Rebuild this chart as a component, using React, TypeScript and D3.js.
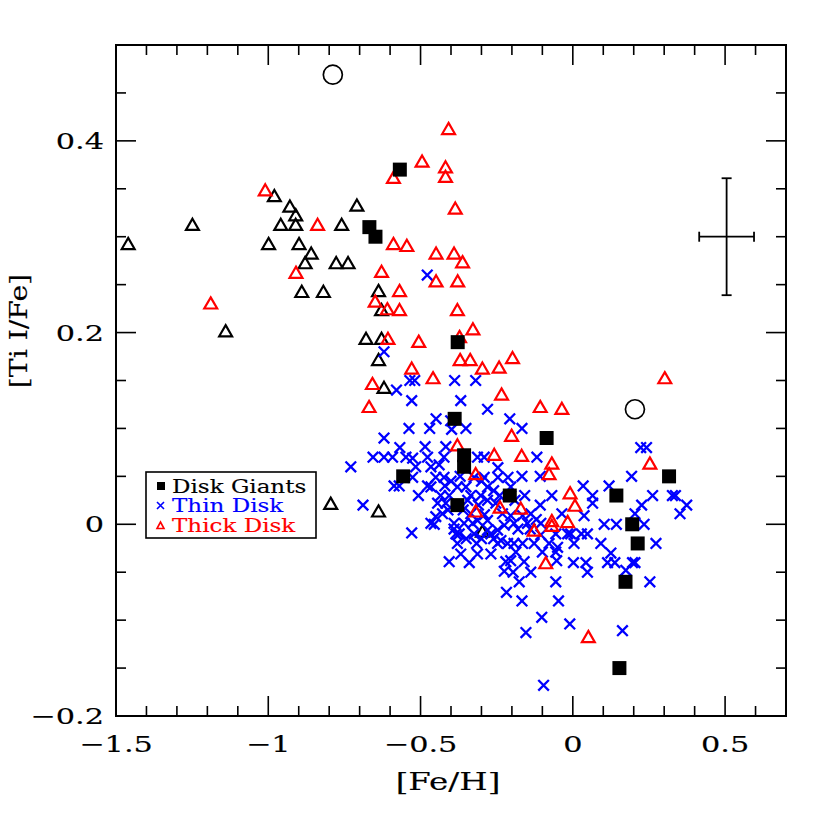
import * as d3 from 'd3';

// [Fe/H], [Ti I/Fe] pairs
const diskGiants: [number, number][] = [
  [-0.568, 0.37], [-0.668, 0.31], [-0.648, 0.3], [-0.378, 0.19], [-0.388, 0.11],
  [-0.357, 0.072], [-0.357, 0.06], [-0.557, 0.05], [-0.379, 0.02], [-0.086, 0.09],
  [0.316, 0.05], [-0.207, 0.03], [0.143, 0.03], [0.195, 0.0], [0.213, -0.02],
  [0.173, -0.06], [0.153, -0.15],
];

const thinDisk: [number, number][] = [
  [-0.478, 0.26], [-0.62, 0.18],
  [-0.535, 0.15], [-0.519, 0.15], [-0.388, 0.15], [-0.319, 0.15],
  [-0.579, 0.14], [-0.529, 0.129], [-0.368, 0.129], [-0.28, 0.12],
  [-0.449, 0.11], [-0.401, 0.108], [-0.207, 0.11],
  [-0.538, 0.1], [-0.47, 0.1], [-0.398, 0.099], [-0.351, 0.1], [-0.167, 0.1],
  [-0.62, 0.09], [-0.568, 0.08], [-0.485, 0.081], [-0.417, 0.081], [0.223, 0.08], [0.242, 0.08],
  [-0.656, 0.07], [-0.62, 0.07], [-0.592, 0.07], [-0.548, 0.07], [-0.526, 0.069], [-0.477, 0.07],
  [-0.423, 0.07], [-0.313, 0.07], [-0.291, 0.07], [-0.118, 0.07],
  [-0.729, 0.06], [-0.516, 0.06], [-0.466, 0.06], [-0.439, 0.062], [-0.246, 0.059],
  [-0.526, 0.049], [-0.45, 0.049], [-0.423, 0.049], [-0.324, 0.049], [-0.291, 0.049],
  [-0.246, 0.049], [-0.213, 0.049], [-0.167, 0.05], [-0.107, 0.05], [0.193, 0.05],
  [-0.587, 0.04], [-0.57, 0.04], [-0.477, 0.04], [-0.466, 0.039], [-0.379, 0.039], [-0.351, 0.039],
  [-0.28, 0.039], [-0.204, 0.039], [0.034, 0.04], [0.119, 0.04],
  [-0.507, 0.03], [-0.434, 0.03], [-0.406, 0.03], [-0.335, 0.03], [-0.302, 0.03], [-0.158, 0.03],
  [-0.069, 0.03], [0.065, 0.03], [0.262, 0.03], [0.327, 0.03], [0.337, 0.03],
  [-0.28, 0.025], [-0.689, 0.02], [-0.444, 0.022], [-0.417, 0.022], [-0.253, 0.022],
  [-0.107, 0.02], [0.065, 0.022], [0.226, 0.02], [0.374, 0.02],
  [-0.428, 0.011], [-0.335, 0.011], [-0.231, 0.011], [-0.204, 0.009], [-0.165, 0.009],
  [-0.138, 0.011], [-0.036, 0.011], [0.037, 0.009], [0.204, 0.011], [0.352, 0.011], [-0.45, 0.008],
  [-0.455, 0.0], [-0.466, 0.001], [-0.39, 0.001], [-0.357, 0.001], [-0.329, 0.001], [-0.313, 0.004],
  [-0.28, 0.004], [-0.225, -0.001], [-0.193, 0.001], [-0.149, 0.001], [-0.105, 0.001],
  [0.103, 0.0], [0.143, 0.0], [0.234, 0.0],
  [-0.529, -0.009], [-0.384, -0.01], [-0.373, -0.01], [-0.324, -0.01], [-0.28, -0.006],
  [-0.247, -0.006], [-0.269, -0.01], [-0.105, -0.011], [-0.056, -0.01], [-0.017, -0.01],
  [-0.007, -0.01], [0.028, -0.01], [0.048, -0.01],
  [-0.236, -0.017], [-0.214, -0.02], [-0.379, -0.02], [-0.316, -0.02], [-0.247, -0.02],
  [-0.193, -0.02], [-0.165, -0.02], [-0.127, -0.02], [-0.078, -0.02], [0.004, -0.02],
  [0.092, -0.02], [0.273, -0.02], [-0.05, -0.024],
  [-0.368, -0.031], [-0.313, -0.031], [-0.269, -0.031], [-0.187, -0.029], [-0.1, -0.029],
  [-0.056, -0.029], [0.125, -0.03],
  [-0.406, -0.039], [-0.22, -0.039], [-0.204, -0.038], [-0.16, -0.039], [-0.053, -0.038],
  [0.002, -0.04], [0.043, -0.04], [0.114, -0.04], [0.138, -0.04], [0.196, -0.04], [0.204, -0.04],
  [-0.225, -0.049], [-0.196, -0.05], [-0.138, -0.05], [0.048, -0.05], [0.174, -0.048],
  [-0.176, -0.06], [-0.056, -0.06], [0.253, -0.06], [-0.218, -0.071],
  [-0.167, -0.08], [-0.047, -0.08], [-0.102, -0.097],
  [-0.01, -0.104], [0.163, -0.111], [-0.154, -0.113], [-0.096, -0.168],
  // dense core
  [-0.42, 0.04], [-0.4, 0.045], [-0.37, 0.05], [-0.345, 0.025], [-0.36, 0.015],
  [-0.31, 0.02], [-0.29, 0.01], [-0.3, -0.015], [-0.26, -0.015], [-0.35, -0.015],
  [-0.34, -0.04], [-0.39, -0.005], [-0.41, 0.015], [-0.3, 0.045], [-0.26, 0.035],
  [-0.24, 0.03], [-0.19, 0.025], [-0.14, -0.005], [-0.18, -0.005], [-0.12, 0.005],
];

const thickDisk: [number, number][] = [
  [-1.01, 0.347], [-0.838, 0.311], [-0.909, 0.261], [-1.189, 0.229],
  [-0.408, 0.411], [-0.589, 0.36], [-0.495, 0.377], [-0.418, 0.371], [-0.418, 0.361],
  [-0.386, 0.328], [-0.589, 0.291], [-0.545, 0.289], [-0.449, 0.281], [-0.39, 0.281],
  [-0.362, 0.272], [-0.628, 0.262], [-0.449, 0.252], [-0.378, 0.252], [-0.569, 0.242],
  [-0.649, 0.231], [-0.609, 0.223], [-0.569, 0.222], [-0.379, 0.222], [-0.328, 0.202],
  [-0.372, 0.194], [-0.607, 0.192], [-0.506, 0.189], [-0.529, 0.161], [-0.37, 0.17],
  [-0.337, 0.17], [-0.297, 0.161], [-0.459, 0.151], [-0.658, 0.145], [-0.669, 0.121],
  [-0.379, 0.081], [-0.319, 0.051], [-0.319, 0.012], [-0.198, 0.172], [-0.242, 0.162],
  [-0.234, 0.134], [0.302, 0.151], [-0.107, 0.121], [-0.036, 0.119], [-0.201, 0.091],
  [0.253, 0.062], [-0.258, 0.071], [-0.168, 0.07], [-0.069, 0.062], [-0.078, 0.051],
  [-0.009, 0.031], [0.007, 0.018], [-0.239, 0.016], [-0.171, 0.015], [-0.069, 0.002],
  [-0.069, -0.003], [-0.017, 0.001], [-0.127, -0.008], [-0.089, -0.042], [0.051, -0.119],
];

// black open triangles (no legend entry)
const otherStars: [number, number][] = [
  [-1.46, 0.291], [-1.249, 0.311], [-1.14, 0.2], [-0.98, 0.341], [-0.929, 0.33],
  [-0.91, 0.321], [-0.959, 0.311], [-0.91, 0.311], [-0.759, 0.311], [-0.709, 0.331],
  [-0.999, 0.291], [-0.899, 0.291], [-0.859, 0.281], [-0.879, 0.271], [-0.777, 0.271],
  [-0.738, 0.271], [-0.89, 0.241], [-0.819, 0.241], [-0.638, 0.242], [-0.628, 0.222],
  [-0.679, 0.192], [-0.628, 0.192], [-0.638, 0.17], [-0.62, 0.141], [-0.297, -0.009],
  [-0.638, 0.012], [-0.795, 0.02],
];

const openCircles: [number, number][] = [[-0.788, 0.469], [0.204, 0.12]];

// typical error bar
const errPoint: [number, number] = [0.505, 0.3];
const errX = 0.09;
const errY = 0.061;

const xMajor = [-1.5, -1, -0.5, 0, 0.5];
const yMajor = [-0.2, 0, 0.2, 0.4];

const legendItems = [
  { label: 'Disk Giants', color: '#000000', kind: 'square' },
  { label: 'Thin Disk', color: '#0000ff', kind: 'cross' },
  { label: 'Thick Disk', color: '#ff0000', kind: 'tri' },
];

const W = 830;
const H = 830;
const margin = { left: 116, top: 45, right: 44, bottom: 114 };
const FONT = '"DejaVu Serif", serif';

const fmt = (v: number) => (v < 0 ? '\u2212' : '') + String(Math.abs(v));

export default function App() {
  const x = d3.scaleLinear().domain([-1.5, 0.7]).range([margin.left, W - margin.right]);
  const y = d3.scaleLinear().domain([-0.2, 0.5]).range([H - margin.bottom, margin.top]);
  const [x0, x1] = x.range();
  const [y0, y1] = y.range();

  const xMinor = d3.range(-15, 8).map(i => i / 10).filter(v => !xMajor.some(m => Math.abs(m - v) < 1e-9));
  const yMinor = d3.range(-4, 11).map(i => i / 20).filter(v => !yMajor.some(m => Math.abs(m - v) < 1e-9));

  const tri = d3.symbol().type(d3.symbolTriangle).size(72)();
  const sq = d3.symbol().type(d3.symbolSquare).size(196)();
  const cross = (s: number) => `M${-s},${-s}L${s},${s}M${-s},${s}L${s},${-s}`;

  const big = 20;
  const small = 10;
  const sx = 1.32; // the original font is wide

  return (
    <svg width={W} height={H} style={{ position: 'absolute', left: 0, top: 0, background: '#fff' }}>
      {/* ticks on all four sides */}
      <g stroke="#000" strokeWidth={1.6}>
        {xMajor.map(v => (
          <g key={'xm' + v}>
            <line x1={x(v)} x2={x(v)} y1={y0} y2={y0 - big} />
            <line x1={x(v)} x2={x(v)} y1={y1} y2={y1 + big} />
          </g>
        ))}
        {xMinor.map(v => (
          <g key={'xn' + v}>
            <line x1={x(v)} x2={x(v)} y1={y0} y2={y0 - small} />
            <line x1={x(v)} x2={x(v)} y1={y1} y2={y1 + small} />
          </g>
        ))}
        {yMajor.map(v => (
          <g key={'ym' + v}>
            <line x1={x0} x2={x0 + big} y1={y(v)} y2={y(v)} />
            <line x1={x1} x2={x1 - big} y1={y(v)} y2={y(v)} />
          </g>
        ))}
        {yMinor.map(v => (
          <g key={'yn' + v}>
            <line x1={x0} x2={x0 + small} y1={y(v)} y2={y(v)} />
            <line x1={x1} x2={x1 - small} y1={y(v)} y2={y(v)} />
          </g>
        ))}
      </g>
      <rect x={x0} y={y1} width={x1 - x0} height={y0 - y1} fill="none" stroke="#000" strokeWidth={2} />

      {/* tick labels */}
      <g fontFamily={FONT} fontSize={23} fill="#000" stroke="#000" strokeWidth={0.15}>
        {xMajor.map(v => (
          <text key={'xl' + v} transform={`translate(${x(v)},${y0 + 36}) scale(${sx},1)`} textAnchor="middle">{fmt(v)}</text>
        ))}
        {yMajor.map(v => (
          <text key={'yl' + v} transform={`translate(${x0 - 12},${y(v) + 8}) scale(${sx},1)`} textAnchor="end">{fmt(v)}</text>
        ))}
      </g>
      <g fontFamily={FONT} fontSize={25} fill="#000" stroke="#000" strokeWidth={0.15}>
        <text transform={`translate(${(x0 + x1) / 2 - 3},790) scale(1.3,1)`} textAnchor="middle">[Fe/H]</text>
        <text transform={`translate(27,331) rotate(-90) scale(1.13,1)`} textAnchor="middle">[Ti I/Fe]</text>
      </g>

      {/* data */}
      <g fill="none" stroke="#000" strokeWidth={2.2}>
        {otherStars.map((d, i) => (
          <path key={'o' + i} d={tri} transform={`translate(${x(d[0])},${y(d[1])})`} />
        ))}
      </g>
      <g fill="none" stroke="#0000ff" strokeWidth={2.3}>
        {thinDisk.map((d, i) => (
          <path key={'b' + i} d={cross(5.3)} transform={`translate(${x(d[0])},${y(d[1])})`} />
        ))}
      </g>
      <g fill="none" stroke="#ff0000" strokeWidth={2.2}>
        {thickDisk.map((d, i) => (
          <path key={'r' + i} d={tri} transform={`translate(${x(d[0])},${y(d[1])})`} />
        ))}
      </g>
      <g fill="#000">
        {diskGiants.map((d, i) => (
          <path key={'g' + i} d={sq} transform={`translate(${x(d[0])},${y(d[1])})`} />
        ))}
      </g>
      <g fill="none" stroke="#000" strokeWidth={1.7}>
        {openCircles.map((d, i) => (
          <circle key={'c' + i} cx={x(d[0])} cy={y(d[1])} r={9.5} />
        ))}
      </g>

      {/* error bar */}
      <g stroke="#000" strokeWidth={1.8}>
        <line x1={x(errPoint[0] - errX)} x2={x(errPoint[0] + errX)} y1={y(errPoint[1])} y2={y(errPoint[1])} />
        <line x1={x(errPoint[0])} x2={x(errPoint[0])} y1={y(errPoint[1] - errY)} y2={y(errPoint[1] + errY)} />
        <line x1={x(errPoint[0] - errX)} x2={x(errPoint[0] - errX)} y1={y(errPoint[1]) - 5} y2={y(errPoint[1]) + 5} />
        <line x1={x(errPoint[0] + errX)} x2={x(errPoint[0] + errX)} y1={y(errPoint[1]) - 5} y2={y(errPoint[1]) + 5} />
        <line x1={x(errPoint[0]) - 5} x2={x(errPoint[0]) + 5} y1={y(errPoint[1] + errY)} y2={y(errPoint[1] + errY)} />
        <line x1={x(errPoint[0]) - 5} x2={x(errPoint[0]) + 5} y1={y(errPoint[1] - errY)} y2={y(errPoint[1] - errY)} />
      </g>

      {/* legend */}
      <g transform="translate(146,472)">
        <rect width={170} height={66} fill="#fff" stroke="#000" strokeWidth={1.6} />
        {legendItems.map((it, i) => {
          const cy = 14 + i * 19.5;
          return (
            <g key={it.label}>
              {it.kind === 'square' && <rect x={11} y={cy - 4} width={8} height={8} fill={it.color} />}
              {it.kind === 'cross' && <path d={`M11,${cy - 3.5}L18,${cy + 3.5}M11,${cy + 3.5}L18,${cy - 3.5}`} stroke={it.color} strokeWidth={1.6} />}
              {it.kind === 'tri' && <path d={`M11,${cy + 3.5}L18,${cy + 3.5}L14.5,${cy - 3}Z`} fill="none" stroke={it.color} strokeWidth={1.6} />}
              <text transform={`translate(26,${cy + 6.5}) scale(1.28,1)`} fontFamily={FONT} fontSize={18}
                fill={it.color} stroke={it.color} strokeWidth={0.15}>{it.label}</text>
            </g>
          );
        })}
      </g>
    </svg>
  );
}
